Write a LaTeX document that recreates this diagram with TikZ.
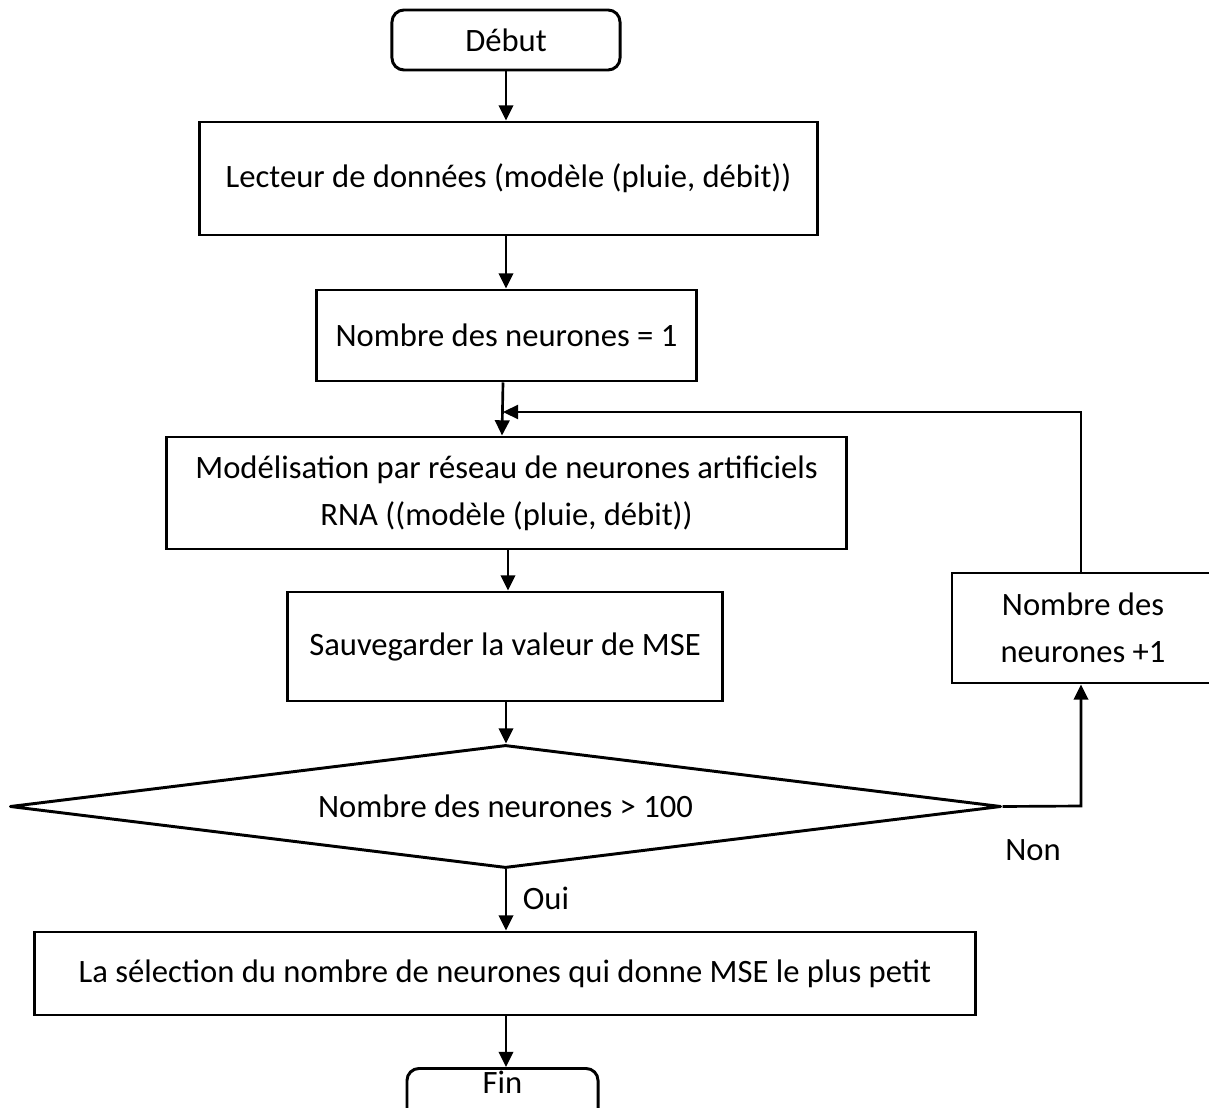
\documentclass[tikz,border=0pt]{standalone}
\usepackage{fontspec}
\setmainfont{Carlito}
\usetikzlibrary{arrows.meta,shapes.geometric}

\tikzset{
  box/.style={draw, line width=2.1pt, rectangle, inner sep=0pt, align=center},
  terminal/.style={draw, line width=2.1pt, rectangle, rounded corners=0.3cm, inner sep=0pt, align=center},
  decision/.style={draw, line width=2.1pt, line join=round, diamond, aspect=8.06, inner sep=0pt, align=center},
  flow/.style={line width=1.9pt, -{Triangle[length=0.38cm,width=0.36cm]}},
  back/.style={line width=1pt, -{Triangle[length=0.38cm,width=0.36cm]}},
  tag/.style={inner sep=0pt}
}

\begin{document}
\begin{tikzpicture}[x=0.025cm,y=-0.025cm,font=\fontsize{23.2}{33.5}\selectfont]
  \clip (0,0) rectangle (1209,1108);

  % process steps
  \node[terminal, minimum width=5.7cm, minimum height=1.5cm] (debut) at (506,40) {Début};
  \node[box, minimum width=15.425cm, minimum height=2.825cm] (lecteur) at (508.5,178.5)
        {Lecteur de données (modèle (pluie, débit))};
  \node[box, minimum width=9.475cm, minimum height=2.275cm] (init) at (506.5,335.5)
        {Nombre des neurones = 1};
  \node[box, minimum width=16.975cm, minimum height=2.8cm] (rna) at (506.5,493)
        {Modélisation par réseau de neurones artificiels\\RNA ((modèle (pluie, débit))};
  \node[box, minimum width=10.85cm, minimum height=2.725cm] (mse) at (505,646.5)
        {Sauvegarder la valeur de MSE};
  \node[decision, minimum width=24.775cm, minimum height=3.075cm] (test) at (505.5,806.5)
        {Nombre des neurones > 100};
  \node[box, minimum width=6.55cm, minimum height=2.75cm] (incr) at (1083,628)
        {Nombre des\\neurones +1};
  \node[box, minimum width=23.5cm, minimum height=2.075cm] (select) at (505,973.5)
        {La sélection du nombre de neurones qui donne MSE le plus petit};
  \node[terminal, anchor=north, minimum width=4.775cm, minimum height=1.5cm,
        inner ysep=0.075cm, text depth=0.8cm] (fin) at (502.5,1067) {Fin};

  % branch labels
  \node[tag] (oui) at (546,898) {Oui};
  \node[tag] (non) at (1033,850) {Non};

  % loop corners
  \coordinate (loopA) at (1081,412);
  \coordinate (loopB) at (503,412);
  \coordinate (nonA) at (1081,806);

  % main flow
  \draw[flow] (debut.south -| 506,0) -- (lecteur.north -| 506,0);
  \draw[flow] (lecteur.south -| 506,0) -- (init.north -| 506,0);
  \draw[flow] (init.south -| 503,0) -- (rna.north -| 502,0);
  \draw[flow] (rna.south -| 508,0) -- (mse.north -| 508,0);
  \draw[flow] (mse.south -| 506,0) -- (test.north -| 506,0);
  \draw[flow] (test.south -| 506,0) -- (select.north -| 506,0);
  \draw[flow] (select.south -| 506,0) -- (fin.north -| 506,0);

  % "Non" branch and loop back
  \draw[flow] (test.east) -- (nonA) -- (incr.south -| nonA);
  \draw[back] (incr.north -| loopA) -- (loopA) -- (loopB);
\end{tikzpicture}
\end{document}
